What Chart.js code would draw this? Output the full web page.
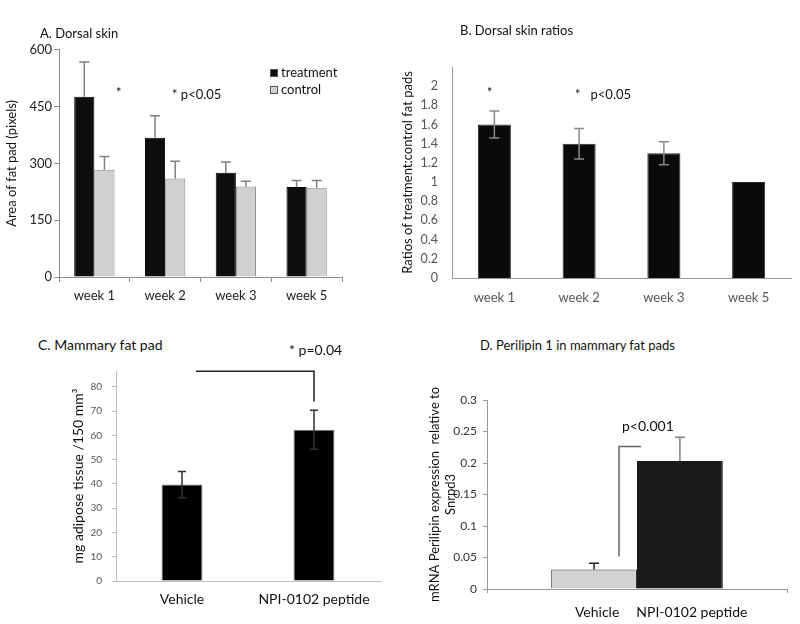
<!DOCTYPE html>
<html>
<head>
<meta charset="utf-8">
<script src="https://cdn.jsdelivr.net/npm/chart.js@4.4.1/dist/chart.umd.min.js"></script>
<style>
    body { margin: 0; background: #fff; }
    #page { position: relative; width: 800px; height: 624px; overflow: hidden; background: #fff; font-family: Lato, sans-serif; }
    canvas { position: absolute; }
    .txt { position: absolute; font-size: 13px; color: #111; white-space: nowrap; line-height: 1; }
</style>
</head>
<body>
<div id="page">
    <canvas id="chartA" width="350" height="275" style="left:0;top:40px"></canvas>
    <canvas id="chartB" width="400" height="275" style="left:400px;top:40px"></canvas>
    <canvas id="chartC" width="400" height="269" style="left:0;top:355px"></canvas>
    <canvas id="chartD" width="400" height="244" style="left:400px;top:380px"></canvas>

    <div class="txt" style="left:40px;top:27px">A. Dorsal skin</div>
    <div class="txt" style="left:460px;top:24px">B. Dorsal skin ratios</div>
    <div class="txt" style="left:38px;top:338px;font-size:14px">C. Mammary fat pad</div>
    <div class="txt" style="left:480px;top:339px">D. Perilipin 1 in mammary fat pads</div>

    <div class="txt" style="left:116px;top:86px">*</div>
    <div class="txt" style="left:172px;top:88px">* p&lt;0.05</div>
    <div class="txt" style="left:487px;top:86px">*</div>
    <div class="txt" style="left:575px;top:88px">*&nbsp;&nbsp; p&lt;0.05</div>
    <div class="txt" style="left:289px;top:343px;font-size:14px">* p=0.04</div>
    <div class="txt" style="left:622px;top:419px;font-size:14px">p&lt;0.001</div>
</div>
<script>
// data
const weeks = ['week 1', 'week 2', 'week 3', 'week 5'];
const areaTreatment = [476, 368, 275, 238];
const areaTreatmentErr = [92, 58, 29, 17];
const areaControl = [283, 260, 239, 236];
const areaControlErr = [35, 46, 14, 19];
const areaTicks = [0, 150, 300, 450, 600];

const ratios = [1.6, 1.4, 1.3, 1.0];
const ratiosErr = [0.14, 0.16, 0.12, 0];

const groups = ['Vehicle', 'NPI-0102 peptide'];
const mammaryFat = [39.7, 62.3];
const mammaryFatErr = [5.4, 8.0];

const perilipin = [0.031, 0.203];
const perilipinErr = [0.010, 0.038];

const FONT = 'Lato, sans-serif';
Chart.defaults.font.family = FONT;
Chart.defaults.animation = false;
Chart.defaults.responsive = false;
Chart.defaults.devicePixelRatio = 1;
Chart.defaults.plugins.legend.display = false;
Chart.defaults.plugins.tooltip.enabled = false;

// excel style numbers: 1 not 1.0, 0.3 not 0.30
const plainNum = v => String(Number(Number(v).toFixed(3)));

// error bars, read from dataset.errors (both = draw below the bar top too)
const errorBars = {
    id: 'errorBars',
    afterDatasetsDraw(chart) {
        const ctx = chart.ctx;
        const y = chart.scales.y;
        chart.data.datasets.forEach((ds, i) => {
            if (!ds.errors) return;
            chart.getDatasetMeta(i).data.forEach((bar, j) => {
                const e = ds.errors[j];
                if (!e) return;
                const v = ds.data[j];
                const top = y.getPixelForValue(v + e);
                const bottom = ds.errorsBoth ? y.getPixelForValue(v - e) : bar.y;
                const cap = ds.errorCap || 5;
                ctx.save();
                ctx.strokeStyle = ds.errorColor || '#808080';
                ctx.lineWidth = 1.5;
                ctx.beginPath();
                ctx.moveTo(bar.x, top); ctx.lineTo(bar.x, bottom);
                ctx.moveTo(bar.x - cap, top); ctx.lineTo(bar.x + cap, top);
                if (ds.errorsBoth) { ctx.moveTo(bar.x - cap, bottom); ctx.lineTo(bar.x + cap, bottom); }
                ctx.stroke();
                ctx.restore();
            });
        });
    }
};

// small legend for panel A
const boxLegend = {
    id: 'boxLegend',
    afterDraw(chart, args, opts) {
        if (!opts.x) return;
        const ctx = chart.ctx;
        ctx.save();
        ctx.font = '13px ' + FONT;
        ctx.textBaseline = 'middle';
        chart.data.datasets.forEach((ds, i) => {
            const yy = opts.y + i * 17;
            ctx.fillStyle = ds.backgroundColor;
            ctx.fillRect(opts.x, yy - 4, 8, 8);
            ctx.strokeStyle = '#555';
            ctx.lineWidth = 1;
            ctx.strokeRect(opts.x + 0.5, yy - 3.5, 7, 7);
            ctx.fillStyle = '#111';
            ctx.fillText(ds.label, opts.x + 11, yy);
        });
        ctx.restore();
    }
};

// significance brackets, x offset in px from the first category, y in data units
const bracket = {
    id: 'bracket',
    afterDraw(chart, args, opts) {
        if (!opts.points) return;
        const ctx = chart.ctx;
        const x = chart.scales.x, y = chart.scales.y;
        ctx.save();
        ctx.strokeStyle = opts.color;
        ctx.lineWidth = 1.5;
        ctx.beginPath();
        opts.points.forEach((p, k) => {
            const px = x.getPixelForValue(0) + p[0];
            const py = y.getPixelForValue(p[1]);
            if (k === 0) ctx.moveTo(px, py); else ctx.lineTo(px, py);
        });
        ctx.stroke();
        ctx.restore();
    }
};

// names under the bars for panel D (one category, two series)
const barNames = {
    id: 'barNames',
    afterDraw(chart, args, opts) {
        if (!opts.y) return;
        const ctx = chart.ctx;
        ctx.save();
        ctx.font = '14px ' + FONT;
        ctx.fillStyle = '#111';
        ctx.textAlign = 'center';
        ctx.textBaseline = 'middle';
        chart.data.datasets.forEach((ds, i) => {
            const bar = chart.getDatasetMeta(i).data[0];
            ctx.fillText(ds.label, bar.x + opts.shift[i], opts.y);
        });
        ctx.restore();
    }
};

Chart.register(errorBars, boxLegend, bracket, barNames);

function fixWidth(w) { return function(scale) { scale.width = w; }; }
function fixHeight(h) { return function(scale) { scale.height = h; }; }

// A. Dorsal skin
new Chart(document.getElementById('chartA'), {
    type: 'bar',
    data: {
        labels: weeks,
        datasets: [{
            label: 'treatment',
            data: areaTreatment,
            errors: areaTreatmentErr,
            backgroundColor: '#0d0d0d',
            borderColor: '#000',
            borderWidth: 1,
            categoryPercentage: 0.57,
            barPercentage: 1
        }, {
            label: 'control',
            data: areaControl,
            errors: areaControlErr,
            backgroundColor: '#d0d0d0',
            borderColor: '#8c8c8c',
            borderWidth: 1,
            categoryPercentage: 0.57,
            barPercentage: 1
        }]
    },
    options: {
        layout: { padding: { top: 9, right: 8, left: 0, bottom: 0 } },
        plugins: { boxLegend: { x: 270, y: 33 } },
        scales: {
            x: {
                afterFit: fixHeight(38),
                border: { color: '#8c8c8c' },
                grid: { offset: true, drawOnChartArea: false, tickLength: 5, color: '#8c8c8c' },
                ticks: { color: '#222', font: { size: 13 }, padding: 6 }
            },
            y: {
                min: 0, max: 600,
                afterFit: fixWidth(59),
                afterBuildTicks(scale) { scale.ticks = areaTicks.map(v => ({ value: v })); },
                border: { color: '#8c8c8c' },
                grid: { drawOnChartArea: false, tickLength: 5, color: '#8c8c8c' },
                ticks: { color: '#222', font: { size: 13 }, padding: 2 },
                title: { display: true, text: 'Area of fat pad (pixels)', color: '#111', font: { size: 13 }, padding: { top: 4 } }
            }
        }
    }
});

// B. Dorsal skin ratios
new Chart(document.getElementById('chartB'), {
    type: 'bar',
    data: {
        labels: weeks,
        datasets: [{
            label: 'ratio',
            data: ratios,
            errors: ratiosErr,
            errorsBoth: true,
            errorColor: '#8a8a8a',
            backgroundColor: '#0a0a0a',
            borderColor: '#2a2a2a',
            borderWidth: 1,
            categoryPercentage: 0.39,
            barPercentage: 1
        }]
    },
    options: {
        layout: { padding: { top: 27, right: 9, left: 0, bottom: 0 } },
        scales: {
            x: {
                afterFit: fixHeight(37),
                border: { color: '#9a9a9a' },
                grid: { display: false, drawTicks: false },
                ticks: { color: '#555', font: { size: 13 }, padding: 12 }
            },
            y: {
                min: 0, max: 2.2,
                afterFit: fixWidth(52),
                afterBuildTicks(scale) { scale.ticks = scale.ticks.filter(t => t.value < 2.1); },
                border: { color: '#9a9a9a' },
                grid: { display: false, drawTicks: false },
                ticks: { stepSize: 0.2, color: '#555', font: { size: 12.5 }, padding: 14, callback: plainNum },
                title: { display: true, text: 'Ratios of treatment:control fat pads', color: '#111', font: { size: 13 }, padding: { top: 0 } }
            }
        }
    }
});

// C. Mammary fat pad
new Chart(document.getElementById('chartC'), {
    type: 'bar',
    data: {
        labels: groups,
        datasets: [{
            label: 'mg',
            data: mammaryFat,
            errors: mammaryFatErr,
            errorsBoth: true,
            errorColor: '#333',
            errorCap: 4,
            backgroundColor: '#000',
            borderColor: '#7a7a7a',
            borderWidth: 1,
            categoryPercentage: 0.31,
            barPercentage: 1
        }]
    },
    options: {
        layout: { padding: { top: 12, right: 20, left: 0, bottom: 0 } },
        plugins: { bracket: { color: '#222', points: [[14, 86.4], [132, 86.4], [132, 73.9]] } },
        scales: {
            x: {
                afterFit: fixHeight(43),
                border: { color: '#bdbdbd' },
                grid: { display: false, drawTicks: false },
                ticks: { color: '#111', font: { size: 14 }, padding: 10 }
            },
            y: {
                min: 0, max: 86.5,
                afterFit: fixWidth(116),
                afterBuildTicks(scale) { scale.ticks = scale.ticks.filter(t => t.value % 10 === 0); },
                border: { color: '#bdbdbd' },
                grid: { drawOnChartArea: false, tickLength: 4, color: '#bdbdbd' },
                ticks: { stepSize: 10, color: '#555', font: { size: 10 }, padding: 10 },
                title: { display: true, text: 'mg adipose tissue /150 mm³', color: '#111', font: { size: 14 }, padding: { top: 70 } }
            }
        }
    }
});

// D. Perilipin 1 in mammary fat pads
new Chart(document.getElementById('chartD'), {
    type: 'bar',
    data: {
        labels: [''],
        datasets: [{
            label: groups[0],
            data: [perilipin[0]],
            errors: [perilipinErr[0]],
            errorColor: '#222',
            backgroundColor: '#d3d3d3',
            borderColor: '#333',
            borderWidth: 1,
            categoryPercentage: 0.572,
            barPercentage: 1
        }, {
            label: groups[1],
            data: [perilipin[1]],
            errors: [perilipinErr[1]],
            errorColor: '#808080',
            backgroundColor: '#1a1a1a',
            borderColor: '#1a1a1a',
            borderWidth: 1,
            categoryPercentage: 0.572,
            barPercentage: 1
        }]
    },
    options: {
        layout: { padding: { top: 20, right: 13, left: 0, bottom: 0 } },
        plugins: {
            bracket: { color: '#666', points: [[-18, 0.0517], [-18, 0.226], [4, 0.226]] },
            barNames: { y: 232, shift: [3, 12] }
        },
        scales: {
            x: {
                afterFit: fixHeight(35),
                border: { color: '#9a9a9a' },
                grid: { offset: true, drawOnChartArea: false, tickLength: 4, color: '#9a9a9a' },
                ticks: { display: false }
            },
            y: {
                min: 0, max: 0.3,
                afterFit: fixWidth(87),
                border: { color: '#9a9a9a' },
                grid: { drawOnChartArea: false, tickLength: 4, color: '#9a9a9a' },
                ticks: { stepSize: 0.05, color: '#333', font: { size: 12 }, padding: 6, callback: plainNum },
                title: { display: true, text: ['mRNA Perilipin expression  relative to', 'Snrpd3'], color: '#111', font: { size: 13 }, padding: { top: 27 } }
            }
        }
    }
});
</script>
</body>
</html>
